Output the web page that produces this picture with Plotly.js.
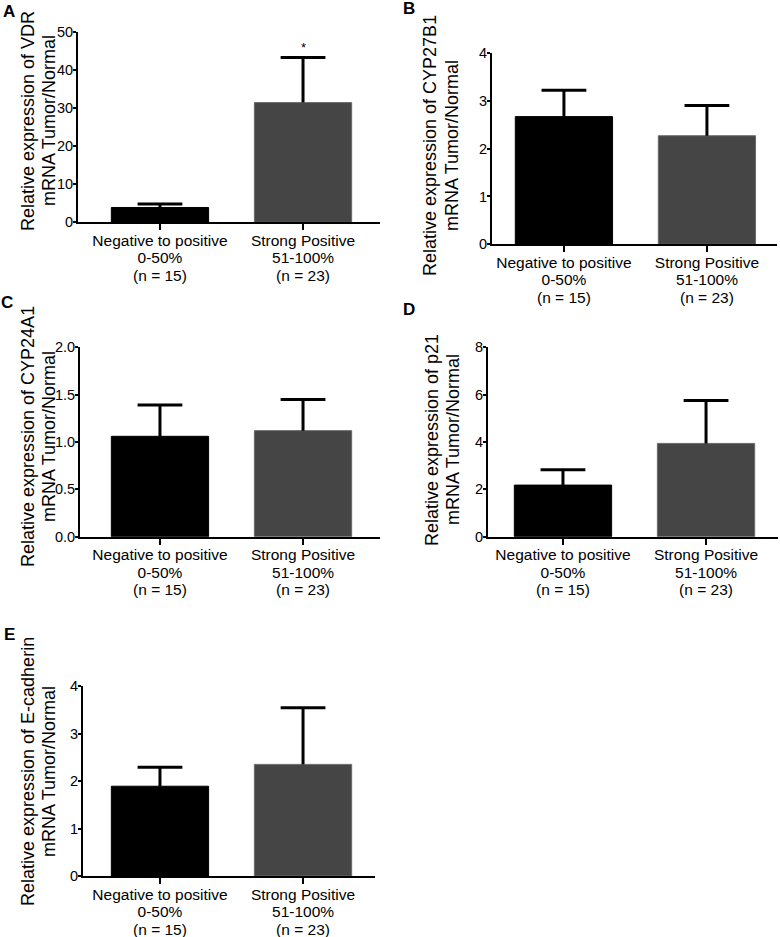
<!DOCTYPE html>
<html>
<head>
<meta charset="utf-8">
<script src="https://cdn.plot.ly/plotly-3.0.1.min.js"></script>
<style>html,body{margin:0;padding:0;background:#fff;}#chart{width:780px;height:937px;}</style>
</head>
<body>
<div id="chart"></div>
<script>
// ---- data ----
const categories = ['Negative to positive<br>0-50%<br>(n = 15)', 'Strong Positive<br>51-100%<br>(n = 23)'];
const barColors = ['#000000', '#454545'];

const vdrMean = [3.9, 31.5];
const vdrSem = [0.9, 11.9];

const cyp27b1Mean = [2.67, 2.27];
const cyp27b1Sem = [0.55, 0.63];

const cyp24a1Mean = [1.06, 1.12];
const cyp24a1Sem = [0.33, 0.33];

const p21Mean = [2.18, 3.94];
const p21Sem = [0.65, 1.81];

const ecadMean = [1.89, 2.35];
const ecadSem = [0.40, 1.19];

const yTitleLine1 = [
  'Relative expression of VDR',
  'Relative expression of CYP27B1',
  'Relative expression of CYP24A1',
  'Relative expression of p21',
  'Relative expression of E-cadherin'
];
const yTitleLine2 = 'mRNA Tumor/Normal';
const panelLetters = ['A', 'B', 'C', 'D', 'E'];
const yMax = [50, 4, 2, 8, 4];
const yDtick = [10, 1, 0.5, 2, 1];
const yFormat = ['d', 'd', '.1f', 'd', 'd'];

// ---- layout geometry (pixels) ----
const W = 780, H = 937;
const panels = [
  {mean: vdrMean, sem: vdrSem, x: [78, 380], y: [32.3, 222.3], xr: [-0.573, 1.538], t1: 28, t2: 49, ty: 121, letter: [9, 11]},
  {mean: cyp27b1Mean, sem: cyp27b1Sem, x: [492, 777], y: [53, 244.3], xr: [-0.503, 1.49], t1: 430, t2: 452, ty: 146, letter: [409, 9]},
  {mean: cyp24a1Mean, sem: cyp24a1Sem, x: [80, 380], y: [347.3, 536.7], xr: [-0.559, 1.538], t1: 28, t2: 49, ty: 437, letter: [7, 302]},
  {mean: p21Mean, sem: p21Sem, x: [488, 778], y: [347.3, 536.7], xr: [-0.524, 1.503], t1: 432, t2: 453, ty: 440, letter: [409, 309]},
  {mean: ecadMean, sem: ecadSem, x: [83, 375], y: [686, 876], xr: [-0.538, 1.503], t1: 28, t2: 49, ty: 772, letter: [9, 634]}
];

const FONT = 'Liberation Sans, Arial, sans-serif';
const data = [];
const layout = {
  width: W, height: H,
  margin: {l: 0, r: 0, t: 0, b: 0},
  paper_bgcolor: '#fff', plot_bgcolor: '#fff',
  showlegend: false,
  bargap: 0.32,
  font: {family: FONT, color: '#000'},
  annotations: []
};

panels.forEach((p, i) => {
  const n = i === 0 ? '' : String(i + 1);
  const xa = 'x' + n, ya = 'y' + n;
  const tops = p.mean.map((m, k) => m + p.sem[k]);
  data.push({
    type: 'bar', x: categories, y: p.mean, xaxis: xa, yaxis: ya,
    marker: {color: barColors, line: {color: ['#000000', '#6a6a6a'], width: 1}},
    error_y: {type: 'data', symmetric: false, array: p.sem, arrayminus: p.mean.map(() => 0),
      width: 0, thickness: 3, color: '#000'},
    hoverinfo: 'skip'
  });
  data.push({
    type: 'scatter', mode: 'markers', x: categories, y: tops, xaxis: xa, yaxis: ya,
    marker: {symbol: 'line-ew', size: 32, color: '#000', line: {color: '#000', width: 3}},
    hoverinfo: 'skip', cliponaxis: false
  });
  layout['xaxis' + n] = {
    type: 'category', domain: [p.x[0] / W, p.x[1] / W], anchor: ya,
    range: p.xr, showline: true, linewidth: 2, linecolor: '#000',
    ticks: 'outside', ticklen: 6, tickwidth: 2, tickcolor: '#000',
    ticklabelstandoff: -3,
    tickfont: {family: FONT, size: 15.5, color: '#000'},
    showgrid: false, zeroline: false, fixedrange: true
  };
  layout['yaxis' + n] = {
    domain: [1 - p.y[1] / H, 1 - p.y[0] / H], anchor: xa,
    range: [0, yMax[i]], dtick: yDtick[i], tick0: 0, tickformat: yFormat[i],
    showline: true, linewidth: 2, linecolor: '#000',
    ticks: 'outside', ticklen: 3, tickwidth: 2, tickcolor: '#000',
    ticklabelstandoff: -3,
    tickfont: {family: FONT, size: 14.5, color: '#000'},
    showgrid: false, zeroline: false, fixedrange: true
  };
  [[yTitleLine1[i], p.t1], [yTitleLine2, p.t2]].forEach(([txt, xp]) => {
    layout.annotations.push({
      xref: 'paper', yref: 'paper', x: xp / W, y: 1 - p.ty / H,
      xanchor: 'center', yanchor: 'middle', textangle: -90, showarrow: false,
      text: txt, font: {family: FONT, size: 18, color: '#000'}
    });
  });
  layout.annotations.push({
    xref: 'paper', yref: 'paper', x: p.letter[0] / W, y: 1 - p.letter[1] / H,
    xanchor: 'center', yanchor: 'middle', showarrow: false,
    text: '<b>' + panelLetters[i] + '</b>', font: {family: FONT, size: 17, color: '#000'}
  });
});

// significance marker over the strong positive VDR bar
layout.annotations.push({
  xref: 'x', yref: 'y', x: categories[1], y: vdrMean[1] + vdrSem[1],
  xanchor: 'center', yanchor: 'bottom', yshift: 0, showarrow: false,
  text: '*', font: {family: FONT, size: 13, color: '#000'}
});

Plotly.newPlot('chart', data, layout, {displayModeBar: false, staticPlot: true}).then(gd => {
  // tighten line spacing of the multi-line category labels on every x axis
  gd.querySelectorAll('.xaxislayer-above text').forEach(t => {
    t.querySelectorAll('tspan.line').forEach((s, k) => s.setAttribute('dy', (k * 1.13) + 'em'));
  });
});
</script>
</body>
</html>
